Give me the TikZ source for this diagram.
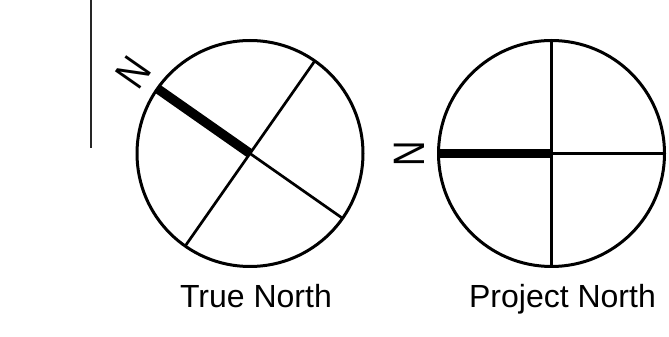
\documentclass[tikz,border=0pt]{standalone}
\usepackage{fontspec}
\setmainfont{Liberation Sans}
\usetikzlibrary{calc}
\begin{document}
\begin{tikzpicture}[x=1pt,y=1pt,
  rim/.style={line width=3pt},
  crossline/.style={line width=2.7pt},
  northbar/.style={line width=9.5pt},
  nlabel/.style={inner sep=0pt, font=\fontsize{44}{50}\selectfont},
  caption/.style={inner sep=0pt, anchor=base, font=\fontsize{32}{38}\selectfont}]
\useasboundingbox (0,0) rectangle (669,337);
% thin vertical line at left
\coordinate (vt) at (91,337);
\coordinate (vb) at (91,189);
\draw[line width=1.2pt, black!85] (vt) -- (vb);
% True North
\coordinate (c1) at (250,183.5);
\draw[rim] (c1) circle (113);
\draw[crossline] ($(c1)+(55:113)$) -- ($(c1)+(235:113)$);
\draw[crossline] (c1) -- ($(c1)+(-35:113)$);
\draw[northbar] (c1) -- ($(c1)+(145:113)$);
\node[nlabel, rotate=55, xscale=0.8] (n1) at ($(c1)+(145:142)$) {N};
\node[caption] (t1) at (256,29) {True North};
% Project North
\coordinate (c2) at (551.5,183.5);
\draw[rim] (c2) circle (113);
\draw[crossline] ($(c2)+(90:113)$) -- ($(c2)+(270:113)$);
\draw[crossline] (c2) -- ($(c2)+(0:113)$);
\draw[northbar] (c2) -- ($(c2)+(180:113)$);
\node[nlabel, rotate=90, xscale=0.8] (n2) at ($(c2)+(180:142.5)$) {N};
\node[caption] (t2) at (562.5,29) {Project North};
\end{tikzpicture}
\end{document}
